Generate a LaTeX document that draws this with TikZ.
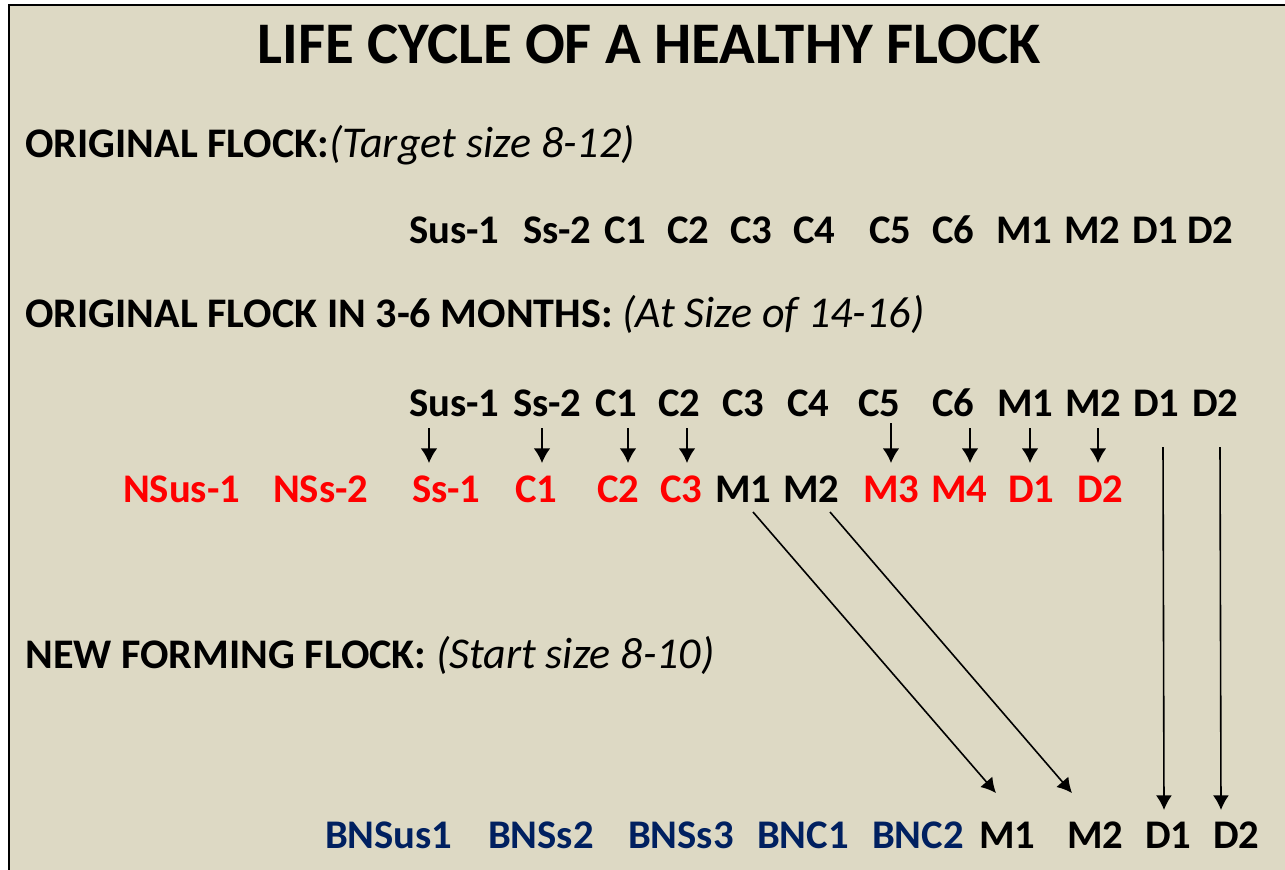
\documentclass[tikz,border=0pt]{standalone}
\usepackage{fontspec}
\setmainfont{Carlito}
\usetikzlibrary{arrows.meta,calc}
\definecolor{bgtan}{HTML}{DDD9C4}
\definecolor{lblred}{HTML}{FF0000}
\definecolor{lblblue}{HTML}{002060}
\newcommand{\hdrit}[1]{{\fontsize{33}{38}\selectfont\itshape #1}}
\tikzset{
  lbl/.style={anchor=base west,inner sep=0pt,outer sep=0pt,font=\fontsize{30.5}{36}\selectfont\bfseries},
  redlbl/.style={lbl,text=lblred},
  bluelbl/.style={lbl,text=lblblue},
  hdr/.style={anchor=base west,inner sep=0pt,font=\fontsize{31.6}{38}\selectfont},
  sarr/.style={line width=1.2pt,-{Latex[length=11pt,width=12.5pt]}},
  larr/.style={line width=1.2pt,-{Latex[length=11pt,width=12pt]}}
}
\begin{document}
\begin{tikzpicture}[x=0.75pt,y=-0.75pt]
\useasboundingbox (0,0) rectangle (1285,869);
\clip (0,0) rectangle (1285,869);
\draw[fill=bgtan,line width=1.6pt] (9,5) rectangle (1300,890);
% title
\node[anchor=base,inner sep=0pt,font=\fontsize{44.2}{50}\selectfont\bfseries] (title) at (649,63) {LIFE CYCLE OF A HEALTHY FLOCK};
% headers
\node[hdr] (h1) at (25,157) {\textbf{ORIGINAL FLOCK:}\hdrit{(Target size 8-12)}};
\node[hdr] (h2) at (25,327) {\textbf{ORIGINAL FLOCK IN 3-6 MONTHS:} \hdrit{(At Size of 14-16)}};
\node[hdr] (h3) at (25,668) {\textbf{NEW FORMING FLOCK:} \hdrit{(Start size 8-10)}};
% row 1
\node[lbl] (u1) at (409,243) {Sus-1};
\node[lbl] (u2) at (523,243) {Ss-2};
\node[lbl] (u3) at (604,243) {C1};
\node[lbl] (u4) at (667,243) {C2};
\node[lbl] (u5) at (730,243) {C3};
\node[lbl] (u6) at (793,243) {C4};
\node[lbl] (u7) at (869,243) {C5};
\node[lbl] (u8) at (932,243) {C6};
\node[lbl] (u9) at (996,243) {M1};
\node[lbl] (u10) at (1064,243) {M2};
\node[lbl] (u11) at (1132,243) {D1};
\node[lbl] (u12) at (1187,243) {D2};
% row 2
\node[lbl] (v1) at (409,416) {Sus-1};
\node[lbl] (v2) at (513,416) {Ss-2};
\node[lbl] (v3) at (595,416) {C1};
\node[lbl] (v4) at (658,416) {C2};
\node[lbl] (v5) at (722,416) {C3};
\node[lbl] (v6) at (787,416) {C4};
\node[lbl] (v7) at (858,416) {C5};
\node[lbl] (v8) at (932,416) {C6};
\node[lbl] (v9) at (997,416) {M1};
\node[lbl] (v10) at (1065,416) {M2};
\node[lbl] (v11) at (1133,416) {D1};
\node[lbl] (v12) at (1192,416) {D2};
% red row
\node[redlbl] (r1) at (123,502) {NSus-1};
\node[redlbl] (r2) at (273,502) {NSs-2};
\node[redlbl] (r3) at (412,502) {Ss-1};
\node[redlbl] (r4) at (515,502) {C1};
\node[redlbl] (r5) at (597,502) {C2};
\node[redlbl] (r6) at (660,502) {C3};
\node[lbl] (r7) at (715,502) {M1};
\node[lbl] (r8) at (783,502) {M2};
\node[redlbl] (r9) at (863,502) {M3};
\node[redlbl] (r10) at (931,502) {M4};
\node[redlbl] (r11) at (1008,502) {D1};
\node[redlbl] (r12) at (1077,502) {D2};
% bottom row
\node[bluelbl] (b1) at (325,848) {BNSus1};
\node[bluelbl] (b2) at (488,848) {BNSs2};
\node[bluelbl] (b3) at (628,848) {BNSs3};
\node[bluelbl] (b4) at (757,848) {BNC1};
\node[bluelbl] (b5) at (872,848) {BNC2};
\node[lbl] (b6) at (979,848) {M1};
\node[lbl] (b7) at (1067,848) {M2};
\node[lbl] (b8) at (1145,848) {D1};
\node[lbl] (b9) at (1213,848) {D2};
% short arrows
\draw[sarr] ($(v1.base west)+(20,12)$) -- ($(r3.base west)+(17,-39)$);
\draw[sarr] ($(v2.base west)+(29,12)$) -- ($(r4.base west)+(27,-39)$);
\draw[sarr] ($(v3.base west)+(33,12)$) -- ($(r5.base west)+(31,-39)$);
\draw[sarr] ($(v4.base west)+(29,12)$) -- ($(r6.base west)+(27,-39)$);
\draw[sarr] ($(v7.base west)+(33,7)$) -- ($(r9.base west)+(28,-39)$);
\draw[sarr] ($(v8.base west)+(38,12)$) -- ($(r10.base west)+(39,-39)$);
\draw[sarr] ($(v9.base west)+(33,12)$) -- ($(r11.base west)+(22,-39)$);
\draw[sarr] ($(v10.base west)+(33,12)$) -- ($(r12.base west)+(21,-39)$);
% long arrows
\draw[larr] ($(r7.base west)+(38,10)$) -- ($(b6.base west)+(17,-55)$);
\draw[larr] ($(r8.base west)+(47,10)$) -- ($(b7.base west)+(5,-55)$);
\draw[larr] ($(v11.base west)+(30,31)$) -- ($(b8.base west)+(19,-38)$);
\draw[larr] ($(v12.base west)+(28,31)$) -- ($(b9.base west)+(8,-38)$);
\end{tikzpicture}
\end{document}
